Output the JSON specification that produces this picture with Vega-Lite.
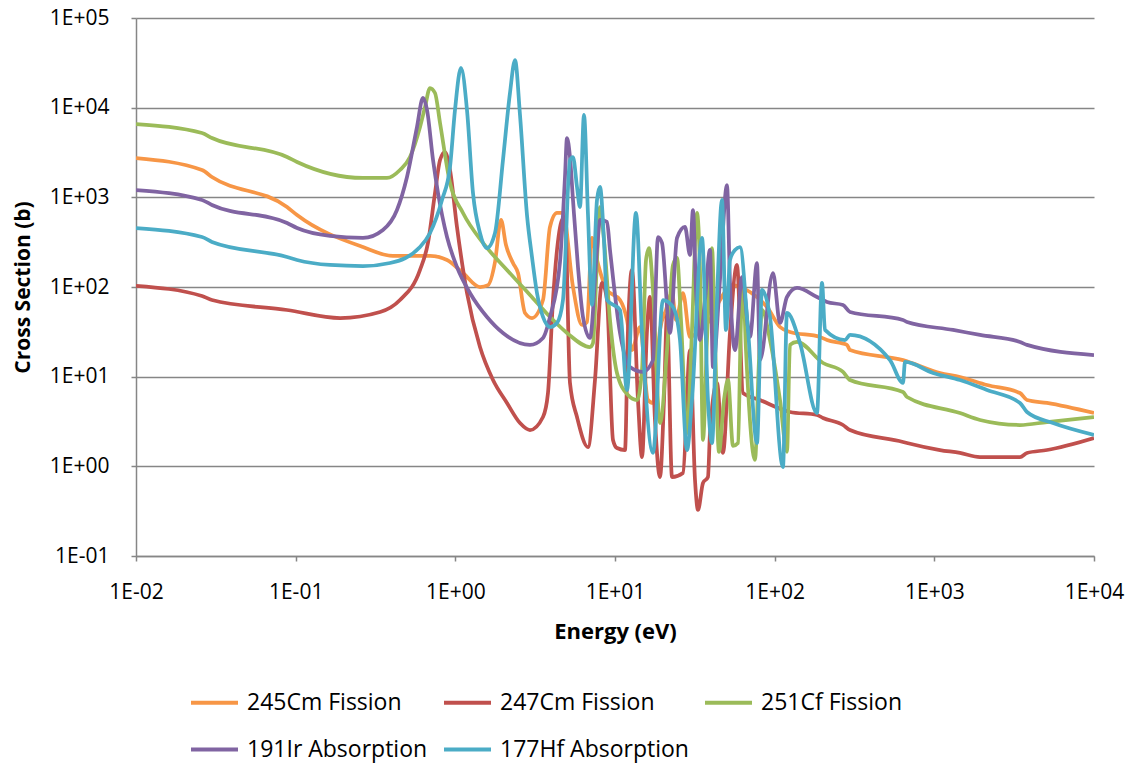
{
  "$schema": "https://vega.github.io/schema/vega-lite/v6.json",
  "width": 958,
  "height": 538,
  "autosize": {"type": "none"},
  "padding": {"left": 136, "top": 18, "right": 35, "bottom": 212},
  "background": "white",
  "config": {"view": {"stroke": null}, "font": "Open Sans"},
  "datasets": {
    "cs": [
      {"s":"245Cm Fission","e":0.01,"c":2746},{"s":"245Cm Fission","e":0.0259,"c":2017},{"s":"245Cm Fission","e":0.0299,"c":1686},{"s":"245Cm Fission","e":0.0883,"c":780},{"s":"245Cm Fission","e":0.102,"c":635},{"s":"245Cm Fission","e":0.264,"c":279},{"s":"245Cm Fission","e":0.407,"c":222},{"s":"245Cm Fission","e":0.694,"c":222},{"s":"245Cm Fission","e":0.887,"c":200},{"s":"245Cm Fission","e":1.117,"c":143},{"s":"245Cm Fission","e":1.427,"c":100},{"s":"245Cm Fission","e":1.602,"c":105},{"s":"245Cm Fission","e":1.772,"c":190},{"s":"245Cm Fission","e":1.932,"c":559},{"s":"245Cm Fission","e":2.076,"c":294},{"s":"245Cm Fission","e":2.297,"c":185},{"s":"245Cm Fission","e":2.469,"c":143},{"s":"245Cm Fission","e":2.731,"c":51.3},{"s":"245Cm Fission","e":3.021,"c":45.1},{"s":"245Cm Fission","e":3.54,"c":71.6},{"s":"245Cm Fission","e":3.915,"c":467},{"s":"245Cm Fission","e":4.332,"c":669},{"s":"245Cm Fission","e":4.723,"c":669},{"s":"245Cm Fission","e":5.457,"c":100},{"s":"245Cm Fission","e":6.212,"c":37.7},{"s":"245Cm Fission","e":6.677,"c":40.7},{"s":"245Cm Fission","e":7.176,"c":352},{"s":"245Cm Fission","e":7.713,"c":200},{"s":"245Cm Fission","e":8.909,"c":92.6},{"s":"245Cm Fission","e":10.75,"c":71.6},{"s":"245Cm Fission","e":11.89,"c":42.9},{"s":"245Cm Fission","e":12.77,"c":19.8},{"s":"245Cm Fission","e":14.34,"c":35.8},{"s":"245Cm Fission","e":16.09,"c":5.49},{"s":"245Cm Fission","e":17.29,"c":5.09},{"s":"245Cm Fission","e":19.13,"c":33.2},{"s":"245Cm Fission","e":20.86,"c":55.4},{"s":"245Cm Fission","e":22.75,"c":85.7},{"s":"245Cm Fission","e":24.1,"c":42.9},{"s":"245Cm Fission","e":26.66,"c":85.7},{"s":"245Cm Fission","e":29.49,"c":27.7},{"s":"245Cm Fission","e":34.06,"c":33.2},{"s":"245Cm Fission","e":39.34,"c":42.9},{"s":"245Cm Fission","e":45.45,"c":71.6},{"s":"245Cm Fission","e":54.04,"c":105},{"s":"245Cm Fission","e":70.05,"c":88},{"s":"245Cm Fission","e":89.53,"c":59.8},{"s":"245Cm Fission","e":108,"c":35.8},{"s":"245Cm Fission","e":124.7,"c":31.5},{"s":"245Cm Fission","e":192.2,"c":27.7},{"s":"245Cm Fission","e":212.7,"c":25.6},{"s":"245Cm Fission","e":283.8,"c":22.6},{"s":"245Cm Fission","e":296.3,"c":19.8},{"s":"245Cm Fission","e":636.4,"c":15.3},{"s":"245Cm Fission","e":1085,"c":11},{"s":"245Cm Fission","e":1447,"c":9.91},{"s":"245Cm Fission","e":2137,"c":8.07},{"s":"245Cm Fission","e":3439,"c":6.57},{"s":"245Cm Fission","e":3804,"c":5.49},{"s":"245Cm Fission","e":5077,"c":5.09},{"s":"245Cm Fission","e":10000,"c":3.93},

      {"s":"247Cm Fission","e":0.01,"c":103},{"s":"247Cm Fission","e":0.0259,"c":79.4},{"s":"247Cm Fission","e":0.0299,"c":71.6},{"s":"247Cm Fission","e":0.0883,"c":55.4},{"s":"247Cm Fission","e":0.19,"c":45.1},{"s":"247Cm Fission","e":0.338,"c":52.6},{"s":"247Cm Fission","e":0.45,"c":71.6},{"s":"247Cm Fission","e":0.601,"c":155},{"s":"247Cm Fission","e":0.674,"c":310},{"s":"247Cm Fission","e":0.746,"c":1118},{"s":"247Cm Fission","e":0.802,"c":2609},{"s":"247Cm Fission","e":0.861,"c":3203},{"s":"247Cm Fission","e":0.926,"c":2017},{"s":"247Cm Fission","e":1.024,"c":467},{"s":"247Cm Fission","e":1.183,"c":85.7},{"s":"247Cm Fission","e":1.427,"c":21.4},{"s":"247Cm Fission","e":1.722,"c":9.18},{"s":"247Cm Fission","e":2.106,"c":5.09},{"s":"247Cm Fission","e":2.541,"c":3.04},{"s":"247Cm Fission","e":2.935,"c":2.54},{"s":"247Cm Fission","e":3.54,"c":3.55},{"s":"247Cm Fission","e":3.804,"c":6.57},{"s":"247Cm Fission","e":4.089,"c":71.6},{"s":"247Cm Fission","e":4.656,"c":559},{"s":"247Cm Fission","e":4.861,"c":603},{"s":"247Cm Fission","e":5.225,"c":8.5},{"s":"247Cm Fission","e":5.781,"c":3.55},{"s":"247Cm Fission","e":6.774,"c":1.64},{"s":"247Cm Fission","e":7.493,"c":9.18},{"s":"247Cm Fission","e":8.29,"c":111},{"s":"247Cm Fission","e":8.909,"c":71.6},{"s":"247Cm Fission","e":9.714,"c":1.97},{"s":"247Cm Fission","e":10.29,"c":1.6},{"s":"247Cm Fission","e":11.55,"c":1.52},{"s":"247Cm Fission","e":12.06,"c":33.2},{"s":"247Cm Fission","e":12.77,"c":155},{"s":"247Cm Fission","e":13.93,"c":5.49},{"s":"247Cm Fission","e":14.76,"c":1.27},{"s":"247Cm Fission","e":15.87,"c":33.2},{"s":"247Cm Fission","e":16.56,"c":77.4},{"s":"247Cm Fission","e":17.8,"c":3.29},{"s":"247Cm Fission","e":19.13,"c":0.76},{"s":"247Cm Fission","e":20.27,"c":5.49},{"s":"247Cm Fission","e":21.17,"c":48.7},{"s":"247Cm Fission","e":22.75,"c":0.76},{"s":"247Cm Fission","e":26.66,"c":0.843},{"s":"247Cm Fission","e":29.49,"c":19.8},{"s":"247Cm Fission","e":31.7,"c":0.704},{"s":"247Cm Fission","e":33.1,"c":0.326},{"s":"247Cm Fission","e":35.57,"c":0.652},{"s":"247Cm Fission","e":38.22,"c":0.76},{"s":"247Cm Fission","e":39.34,"c":2.35},{"s":"247Cm Fission","e":43.52,"c":8.5},{"s":"247Cm Fission","e":47.46,"c":1.41},{"s":"247Cm Fission","e":52.5,"c":30.7},{"s":"247Cm Fission","e":58.07,"c":176},{"s":"247Cm Fission","e":63.33,"c":6.57},{"s":"247Cm Fission","e":80.93,"c":5.49},{"s":"247Cm Fission","e":124.7,"c":4.04},{"s":"247Cm Fission","e":184.1,"c":3.74},{"s":"247Cm Fission","e":200.8,"c":3.46},{"s":"247Cm Fission","e":267.9,"c":2.89},{"s":"247Cm Fission","e":296.3,"c":2.54},{"s":"247Cm Fission","e":636.4,"c":1.87},{"s":"247Cm Fission","e":674.2,"c":1.82},{"s":"247Cm Fission","e":1085,"c":1.52},{"s":"247Cm Fission","e":1447,"c":1.41},{"s":"247Cm Fission","e":1932,"c":1.27},{"s":"247Cm Fission","e":3439,"c":1.27},{"s":"247Cm Fission","e":3804,"c":1.41},{"s":"247Cm Fission","e":5077,"c":1.52},{"s":"247Cm Fission","e":10000,"c":2.07},

      {"s":"251Cf Fission","e":0.01,"c":6574},{"s":"251Cf Fission","e":0.0259,"c":5216},{"s":"251Cf Fission","e":0.0299,"c":4587},{"s":"251Cf Fission","e":0.0883,"c":2817},{"s":"251Cf Fission","e":0.102,"c":2477},{"s":"251Cf Fission","e":0.264,"c":1643},{"s":"251Cf Fission","e":0.373,"c":1643},{"s":"251Cf Fission","e":0.45,"c":2017},{"s":"251Cf Fission","e":0.52,"c":2817},{"s":"251Cf Fission","e":0.601,"c":6085},{"s":"251Cf Fission","e":0.646,"c":10170},{"s":"251Cf Fission","e":0.694,"c":16570},{"s":"251Cf Fission","e":0.746,"c":14570},{"s":"251Cf Fission","e":0.802,"c":6745},{"s":"251Cf Fission","e":0.926,"c":1445},{"s":"251Cf Fission","e":1.117,"c":669},{"s":"251Cf Fission","e":1.49,"c":310},{"s":"251Cf Fission","e":2.106,"c":155},{"s":"251Cf Fission","e":2.935,"c":81.4},{"s":"251Cf Fission","e":4.089,"c":42.9},{"s":"251Cf Fission","e":5.004,"c":30.7},{"s":"251Cf Fission","e":6.972,"c":21.4},{"s":"251Cf Fission","e":7.28,"c":23.7},{"s":"251Cf Fission","e":7.713,"c":200},{"s":"251Cf Fission","e":8.054,"c":780},{"s":"251Cf Fission","e":8.531,"c":334},{"s":"251Cf Fission","e":9.303,"c":42.9},{"s":"251Cf Fission","e":10.29,"c":11},{"s":"251Cf Fission","e":12.06,"c":6.24},{"s":"251Cf Fission","e":13.73,"c":5.49},{"s":"251Cf Fission","e":14.76,"c":11.9},{"s":"251Cf Fission","e":15.64,"c":200},{"s":"251Cf Fission","e":16.33,"c":272},{"s":"251Cf Fission","e":17.29,"c":92.6},{"s":"251Cf Fission","e":19.13,"c":3.04},{"s":"251Cf Fission","e":21.17,"c":19.8},{"s":"251Cf Fission","e":23.08,"c":176},{"s":"251Cf Fission","e":24.45,"c":211},{"s":"251Cf Fission","e":25.9,"c":42.9},{"s":"251Cf Fission","e":28.24,"c":2.35},{"s":"251Cf Fission","e":30.35,"c":33.2},{"s":"251Cf Fission","e":32.62,"c":669},{"s":"251Cf Fission","e":34.06,"c":155},{"s":"251Cf Fission","e":35.57,"c":1.97},{"s":"251Cf Fission","e":37.68,"c":25.6},{"s":"251Cf Fission","e":40.49,"c":272},{"s":"251Cf Fission","e":42.28,"c":25.6},{"s":"251Cf Fission","e":44.8,"c":1.45},{"s":"251Cf Fission","e":48.15,"c":5.49},{"s":"251Cf Fission","e":51.01,"c":9.18},{"s":"251Cf Fission","e":54.83,"c":1.69},{"s":"251Cf Fission","e":58.92,"c":1.82},{"s":"251Cf Fission","e":61.52,"c":42.9},{"s":"251Cf Fission","e":63.33,"c":114},{"s":"251Cf Fission","e":66.13,"c":19.8},{"s":"251Cf Fission","e":75.29,"c":1.18},{"s":"251Cf Fission","e":79.77,"c":15.3},{"s":"251Cf Fission","e":83.3,"c":55.4},{"s":"251Cf Fission","e":93.48,"c":25.6},{"s":"251Cf Fission","e":108,"c":5.49},{"s":"251Cf Fission","e":119.4,"c":1.45},{"s":"251Cf Fission","e":124.7,"c":22.6},{"s":"251Cf Fission","e":138,"c":24.4},{"s":"251Cf Fission","e":200.8,"c":14.2},{"s":"251Cf Fission","e":267.9,"c":11.3},{"s":"251Cf Fission","e":296.3,"c":9.18},{"s":"251Cf Fission","e":636.4,"c":6.74},{"s":"251Cf Fission","e":674.2,"c":5.93},{"s":"251Cf Fission","e":1447,"c":3.93},{"s":"251Cf Fission","e":1932,"c":3.29},{"s":"251Cf Fission","e":3439,"c":2.89},{"s":"251Cf Fission","e":5077,"c":3.12},{"s":"251Cf Fission","e":10000,"c":3.55},

      {"s":"191Ir Absorption","e":0.01,"c":1207},{"s":"191Ir Absorption","e":0.0259,"c":934},{"s":"191Ir Absorption","e":0.0299,"c":821},{"s":"191Ir Absorption","e":0.0883,"c":517},{"s":"191Ir Absorption","e":0.102,"c":455},{"s":"191Ir Absorption","e":0.164,"c":371},{"s":"191Ir Absorption","e":0.264,"c":352},{"s":"191Ir Absorption","e":0.352,"c":432},{"s":"191Ir Absorption","e":0.431,"c":722},{"s":"191Ir Absorption","e":0.498,"c":1686},{"s":"191Ir Absorption","e":0.575,"c":6085},{"s":"191Ir Absorption","e":0.627,"c":12820},{"s":"191Ir Absorption","e":0.665,"c":9417},{"s":"191Ir Absorption","e":0.725,"c":2609},{"s":"191Ir Absorption","e":0.779,"c":1118},{"s":"191Ir Absorption","e":0.887,"c":361},{"s":"191Ir Absorption","e":1.024,"c":167},{"s":"191Ir Absorption","e":1.235,"c":85.7},{"s":"191Ir Absorption","e":1.579,"c":46.3},{"s":"191Ir Absorption","e":1.988,"c":30.7},{"s":"191Ir Absorption","e":2.935,"c":22.6},{"s":"191Ir Absorption","e":3.54,"c":27},{"s":"191Ir Absorption","e":3.915,"c":46.3},{"s":"191Ir Absorption","e":4.524,"c":190},{"s":"191Ir Absorption","e":4.861,"c":1686},{"s":"191Ir Absorption","e":5.004,"c":4587},{"s":"191Ir Absorption","e":5.225,"c":2817},{"s":"191Ir Absorption","e":5.457,"c":934},{"s":"191Ir Absorption","e":5.864,"c":167},{"s":"191Ir Absorption","e":6.302,"c":46.3},{"s":"191Ir Absorption","e":6.972,"c":27},{"s":"191Ir Absorption","e":7.713,"c":259},{"s":"191Ir Absorption","e":8.054,"c":559},{"s":"191Ir Absorption","e":8.909,"c":531},{"s":"191Ir Absorption","e":9.303,"c":259},{"s":"191Ir Absorption","e":10.75,"c":30.7},{"s":"191Ir Absorption","e":12.41,"c":12.8},{"s":"191Ir Absorption","e":14.97,"c":11.3},{"s":"191Ir Absorption","e":17.29,"c":15.3},{"s":"191Ir Absorption","e":18.59,"c":361},{"s":"191Ir Absorption","e":19.69,"c":310},{"s":"191Ir Absorption","e":22.1,"c":30.7},{"s":"191Ir Absorption","e":24.45,"c":352},{"s":"191Ir Absorption","e":27.44,"c":467},{"s":"191Ir Absorption","e":29.49,"c":227},{"s":"191Ir Absorption","e":30.79,"c":722},{"s":"191Ir Absorption","e":32.16,"c":92.6},{"s":"191Ir Absorption","e":34.06,"c":25.6},{"s":"191Ir Absorption","e":36.61,"c":71.6},{"s":"191Ir Absorption","e":39.34,"c":259},{"s":"191Ir Absorption","e":41.08,"c":12.8},{"s":"191Ir Absorption","e":45.45,"c":120},{"s":"191Ir Absorption","e":50.28,"c":1372},{"s":"191Ir Absorption","e":52.5,"c":111},{"s":"191Ir Absorption","e":56.43,"c":19.8},{"s":"191Ir Absorption","e":62.42,"c":129},{"s":"191Ir Absorption","e":70.05,"c":27.7},{"s":"191Ir Absorption","e":77.5,"c":185},{"s":"191Ir Absorption","e":80.93,"c":15.3},{"s":"191Ir Absorption","e":97.61,"c":143},{"s":"191Ir Absorption","e":108,"c":39.7},{"s":"191Ir Absorption","e":119.4,"c":77.4},{"s":"191Ir Absorption","e":138,"c":97.5},{"s":"191Ir Absorption","e":184.1,"c":77.4},{"s":"191Ir Absorption","e":212.7,"c":68},{"s":"191Ir Absorption","e":267.9,"c":63},{"s":"191Ir Absorption","e":296.3,"c":52.6},{"s":"191Ir Absorption","e":636.4,"c":42.9},{"s":"191Ir Absorption","e":674.2,"c":40.7},{"s":"191Ir Absorption","e":1309,"c":33.2},{"s":"191Ir Absorption","e":1932,"c":29.2},{"s":"191Ir Absorption","e":3439,"c":24.4},{"s":"191Ir Absorption","e":3804,"c":22.6},{"s":"191Ir Absorption","e":10000,"c":17.4},

      {"s":"177Hf Absorption","e":0.01,"c":455},{"s":"177Hf Absorption","e":0.0259,"c":361},{"s":"177Hf Absorption","e":0.0299,"c":318},{"s":"177Hf Absorption","e":0.0883,"c":216},{"s":"177Hf Absorption","e":0.102,"c":200},{"s":"177Hf Absorption","e":0.164,"c":176},{"s":"177Hf Absorption","e":0.264,"c":171},{"s":"177Hf Absorption","e":0.39,"c":185},{"s":"177Hf Absorption","e":0.601,"c":279},{"s":"177Hf Absorption","e":0.694,"c":400},{"s":"177Hf Absorption","e":0.825,"c":934},{"s":"177Hf Absorption","e":0.926,"c":2179},{"s":"177Hf Absorption","e":0.995,"c":9417},{"s":"177Hf Absorption","e":1.085,"c":27700},{"s":"177Hf Absorption","e":1.183,"c":9417},{"s":"177Hf Absorption","e":1.29,"c":1118},{"s":"177Hf Absorption","e":1.427,"c":400},{"s":"177Hf Absorption","e":1.579,"c":272},{"s":"177Hf Absorption","e":1.772,"c":400},{"s":"177Hf Absorption","e":1.988,"c":2609},{"s":"177Hf Absorption","e":2.199,"c":14570},{"s":"177Hf Absorption","e":2.364,"c":34000},{"s":"177Hf Absorption","e":2.541,"c":8285},{"s":"177Hf Absorption","e":2.81,"c":635},{"s":"177Hf Absorption","e":3.021,"c":216},{"s":"177Hf Absorption","e":3.246,"c":85.7},{"s":"177Hf Absorption","e":3.54,"c":46.3},{"s":"177Hf Absorption","e":3.915,"c":35.8},{"s":"177Hf Absorption","e":4.332,"c":39.7},{"s":"177Hf Absorption","e":4.723,"c":71.6},{"s":"177Hf Absorption","e":5.225,"c":2609},{"s":"177Hf Absorption","e":5.457,"c":2817},{"s":"177Hf Absorption","e":5.781,"c":1304},{"s":"177Hf Absorption","e":6.035,"c":780},{"s":"177Hf Absorption","e":6.394,"c":8285},{"s":"177Hf Absorption","e":6.774,"c":635},{"s":"177Hf Absorption","e":7.176,"c":63},{"s":"177Hf Absorption","e":7.713,"c":934},{"s":"177Hf Absorption","e":8.054,"c":1304},{"s":"177Hf Absorption","e":8.531,"c":334},{"s":"177Hf Absorption","e":8.909,"c":71.6},{"s":"177Hf Absorption","e":10.75,"c":55.4},{"s":"177Hf Absorption","e":11.89,"c":7.1},{"s":"177Hf Absorption","e":13.53,"c":669},{"s":"177Hf Absorption","e":14.76,"c":30.7},{"s":"177Hf Absorption","e":17.29,"c":1.41},{"s":"177Hf Absorption","e":19.98,"c":71.6},{"s":"177Hf Absorption","e":23.08,"c":59.8},{"s":"177Hf Absorption","e":25.53,"c":25.6},{"s":"177Hf Absorption","e":28.24,"c":1.52},{"s":"177Hf Absorption","e":30.35,"c":5.49},{"s":"177Hf Absorption","e":35.06,"c":352},{"s":"177Hf Absorption","e":38.22,"c":5.49},{"s":"177Hf Absorption","e":40.49,"c":1.82},{"s":"177Hf Absorption","e":43.52,"c":71.6},{"s":"177Hf Absorption","e":46.78,"c":934},{"s":"177Hf Absorption","e":49.56,"c":33.2},{"s":"177Hf Absorption","e":52.5,"c":200},{"s":"177Hf Absorption","e":56.43,"c":259},{"s":"177Hf Absorption","e":60.64,"c":279},{"s":"177Hf Absorption","e":68.07,"c":33.2},{"s":"177Hf Absorption","e":77.5,"c":1.82},{"s":"177Hf Absorption","e":83.3,"c":92.6},{"s":"177Hf Absorption","e":93.48,"c":46.3},{"s":"177Hf Absorption","e":112.7,"c":0.983},{"s":"177Hf Absorption","e":119.4,"c":51.3},{"s":"177Hf Absorption","e":144.1,"c":23.7},{"s":"177Hf Absorption","e":184.1,"c":3.93},{"s":"177Hf Absorption","e":197.9,"c":111},{"s":"177Hf Absorption","e":206.6,"c":33.2},{"s":"177Hf Absorption","e":275.7,"c":25.6},{"s":"177Hf Absorption","e":296.3,"c":29.2},{"s":"177Hf Absorption","e":527.6,"c":15.3},{"s":"177Hf Absorption","e":636.4,"c":8.5},{"s":"177Hf Absorption","e":655,"c":14.6},{"s":"177Hf Absorption","e":980.7,"c":11},{"s":"177Hf Absorption","e":1447,"c":9.18},{"s":"177Hf Absorption","e":2137,"c":7.1},{"s":"177Hf Absorption","e":3439,"c":5.09},{"s":"177Hf Absorption","e":3804,"c":4.04},{"s":"177Hf Absorption","e":5536,"c":3.04},{"s":"177Hf Absorption","e":10000,"c":2.24}
    ]
  },
  "data": {"name": "cs"},
  "mark": {"type": "line", "interpolate": "monotone", "strokeWidth": 3.75, "clip": true},
  "encoding": {
    "x": {
      "field": "e", "type": "quantitative",
      "scale": {"type": "log", "domain": [0.01, 10000], "nice": false},
      "axis": {
        "title": "Energy (eV)",
        "values": [0.01, 0.1, 1, 10, 100, 1000, 10000],
        "labelExpr": "'1E' + (round(log(datum.value)/LN10) < 0 ? '-' : '+') + (abs(round(log(datum.value)/LN10)) < 10 ? '0' : '') + abs(round(log(datum.value)/LN10))",
        "grid": false,
        "domainColor": "#868686", "domainWidth": 1.5,
        "ticks": true, "tickColor": "#868686", "tickSize": 5, "tickWidth": 1.5,
        "labelFont": "Open Sans", "labelFontSize": 21, "labelColor": "#000000", "labelPadding": 20,
        "labelFlush": false, "labelOverlap": false,
        "titleFont": "Open Sans", "titleFontSize": 22, "titleFontWeight": "bold", "titleColor": "#000000", "titlePadding": 19
      }
    },
    "y": {
      "field": "c", "type": "quantitative",
      "scale": {"type": "log", "domain": [0.1, 100000], "nice": false},
      "axis": {
        "title": "Cross Section (b)",
        "values": [0.1, 1, 10, 100, 1000, 10000, 100000],
        "labelExpr": "'1E' + (round(log(datum.value)/LN10) < 0 ? '-' : '+') + (abs(round(log(datum.value)/LN10)) < 10 ? '0' : '') + abs(round(log(datum.value)/LN10))",
        "grid": true, "gridColor": "#868686", "gridWidth": 1.5,
        "domainColor": "#868686", "domainWidth": 1.5,
        "ticks": true, "tickColor": "#868686", "tickSize": 5, "tickWidth": 1.5,
        "labelFont": "Open Sans", "labelFontSize": 21, "labelColor": "#000000", "labelPadding": 22,
        "labelFlush": false, "labelOverlap": false,
        "titleFont": "Open Sans", "titleFontSize": 21, "titleFontWeight": "bold", "titleColor": "#000000", "titlePadding": 16
      }
    },
    "color": {
      "field": "s", "type": "nominal",
      "scale": {
        "domain": ["245Cm Fission", "247Cm Fission", "251Cf Fission", "191Ir Absorption", "177Hf Absorption"],
        "range": ["#F79646", "#C0504D", "#9BBB59", "#8064A2", "#4BACC6"]
      },
      "legend": {
        "title": null, "orient": "none", "legendX": 53, "legendY": 659,
        "direction": "horizontal", "columns": 3, "gridAlign": "each",
        "symbolType": "stroke", "symbolSize": 2209, "symbolStrokeWidth": 4,
        "labelFont": "Open Sans", "labelFontSize": 23, "labelColor": "#000000", "labelOffset": 7,
        "columnPadding": 8, "rowPadding": 9, "padding": 0, "labelLimit": 400
      }
    }
  }
}
